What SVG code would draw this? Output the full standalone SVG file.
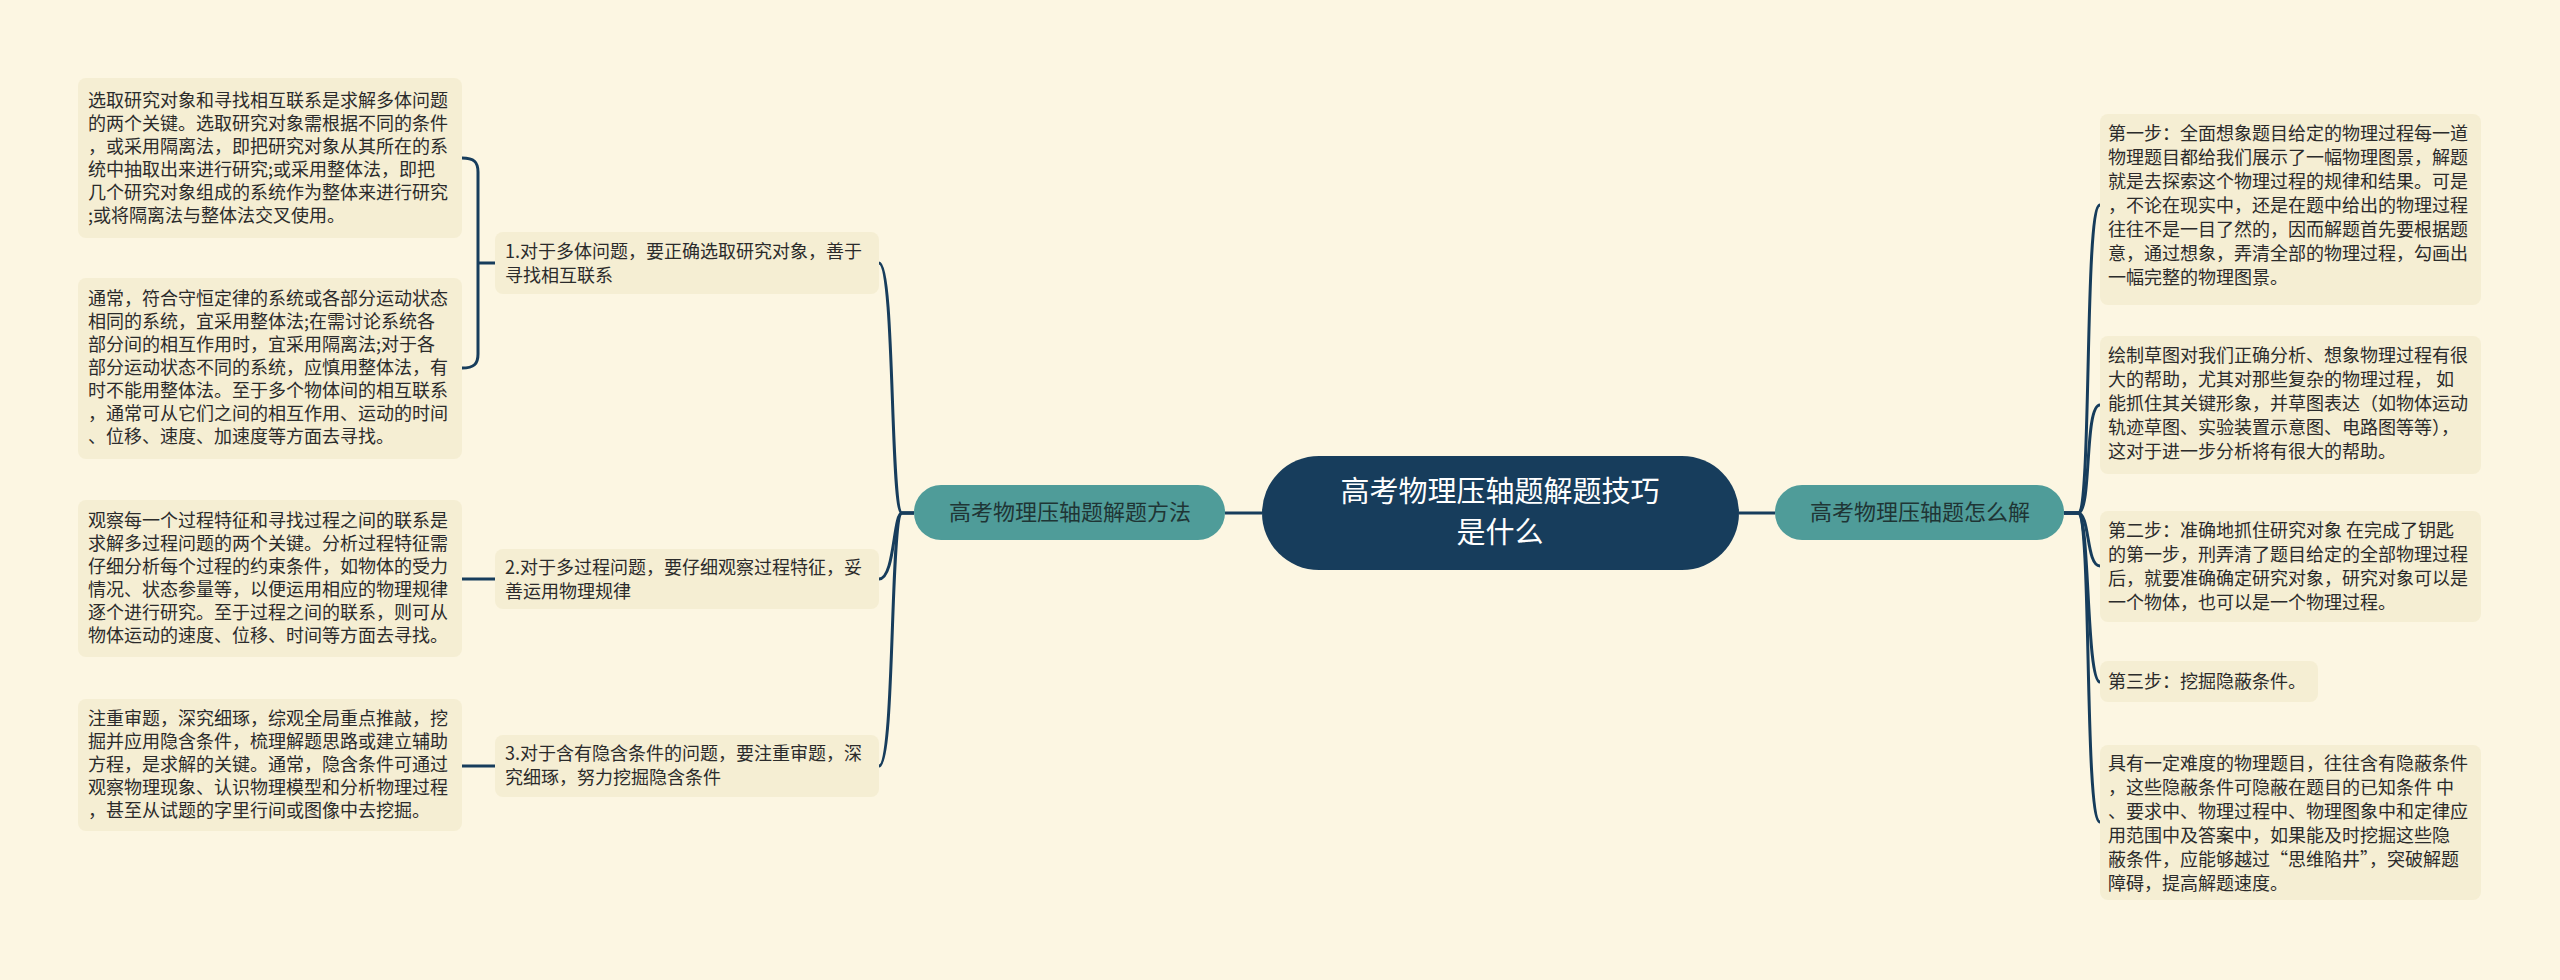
<svg xmlns="http://www.w3.org/2000/svg" width="2560" height="980" viewBox="0 0 2560 980">
<style>
.leaf{fill:#f5eed3}
.t{font-family:"Noto Sans CJK SC","Liberation Sans",sans-serif;font-size:18px;fill:#2b2b2b}
.m{fill:#4f9c99}
.mt{font-family:"Noto Sans CJK SC","Liberation Sans",sans-serif;font-size:22px;fill:#1f3535}
.c{fill:none;stroke:#173d5c;stroke-width:3}
</style>
<rect width="2560" height="980" fill="#fcf6e2"/>
<g id="connectors">
<path class="c" d="M1262,513 H1225"/>
<path class="c" d="M1739,513 H1775"/>
<path class="c" d="M914,513 H902 C890,513 895,263 879,263"/>
<path class="c" d="M914,513 H902 C893,513 895,579 879,579"/>
<path class="c" d="M914,513 H902 C890,513 895,766 879,766"/>
<path class="c" d="M495,263 H478"/>
<path class="c" d="M462,158 C474,158 478,162 478,172 V354 C478,364 474,368 462,368"/>
<path class="c" d="M495,579 H462"/>
<path class="c" d="M495,766 H462"/>
<path class="c" d="M2064,513 H2078 C2092,513 2084,205 2100,205"/>
<path class="c" d="M2064,513 H2078 C2092,513 2084,405 2100,405"/>
<path class="c" d="M2064,513 H2078 C2090,513 2086,566 2100,566"/>
<path class="c" d="M2064,513 H2078 C2090,513 2086,682 2100,682"/>
<path class="c" d="M2064,513 H2078 C2092,513 2084,822 2100,822"/>
</g>
<g id="center">
<rect x="1262" y="456" width="477" height="114" rx="57" fill="#173d5c"/>
<text x="1500" y="502" text-anchor="middle" font-family="Noto Sans CJK SC,Liberation Sans,sans-serif" font-size="29" fill="#fff">高考物理压轴题解题技巧</text>
<text x="1500" y="543" text-anchor="middle" font-family="Noto Sans CJK SC,Liberation Sans,sans-serif" font-size="29" fill="#fff">是什么</text>
</g>
<g id="main-left"><rect class="m" x="914" y="485" width="311" height="55" rx="27"/><text class="mt" x="1070" y="520" text-anchor="middle">高考物理压轴题解题方法</text></g>
<g id="main-right"><rect class="m" x="1775" y="485" width="289" height="55" rx="27"/><text class="mt" x="1920" y="520" text-anchor="middle">高考物理压轴题怎么解</text></g>
<g id="sub1"><rect class="leaf" x="495" y="232" width="384" height="62" rx="8"/><text class="t" x="505" y="258">1.对于多体问题，要正确选取研究对象，善于</text><text class="t" x="505" y="282">寻找相互联系</text></g>
<g id="sub2"><rect class="leaf" x="495" y="549" width="384" height="60" rx="8"/><text class="t" x="505" y="574">2.对于多过程问题，要仔细观察过程特征，妥</text><text class="t" x="505" y="598">善运用物理规律</text></g>
<g id="sub3"><rect class="leaf" x="495" y="735" width="384" height="62" rx="8"/><text class="t" x="505" y="760">3.对于含有隐含条件的问题，要注重审题，深</text><text class="t" x="505" y="784">究细琢，努力挖掘隐含条件</text></g>
<g id="leaf1a"><rect class="leaf" x="78" y="78" width="384" height="160" rx="8"/>
<text class="t" x="88" y="107">选取研究对象和寻找相互联系是求解多体问题</text>
<text class="t" x="88" y="130">的两个关键。选取研究对象需根据不同的条件</text>
<text class="t" x="88" y="153">，或采用隔离法，即把研究对象从其所在的系</text>
<text class="t" x="88" y="176">统中抽取出来进行研究;或采用整体法，即把</text>
<text class="t" x="88" y="199">几个研究对象组成的系统作为整体来进行研究</text>
<text class="t" x="88" y="222">;或将隔离法与整体法交叉使用。</text></g>
<g id="leaf1b"><rect class="leaf" x="78" y="278" width="384" height="181" rx="8"/>
<text class="t" x="88" y="305">通常，符合守恒定律的系统或各部分运动状态</text>
<text class="t" x="88" y="328">相同的系统，宜采用整体法;在需讨论系统各</text>
<text class="t" x="88" y="351">部分间的相互作用时，宜采用隔离法;对于各</text>
<text class="t" x="88" y="374">部分运动状态不同的系统，应慎用整体法，有</text>
<text class="t" x="88" y="397">时不能用整体法。至于多个物体间的相互联系</text>
<text class="t" x="88" y="420">，通常可从它们之间的相互作用、运动的时间</text>
<text class="t" x="88" y="443">、位移、速度、加速度等方面去寻找。</text></g>
<g id="leaf2"><rect class="leaf" x="78" y="500" width="384" height="157" rx="8"/>
<text class="t" x="88" y="527">观察每一个过程特征和寻找过程之间的联系是</text>
<text class="t" x="88" y="550">求解多过程问题的两个关键。分析过程特征需</text>
<text class="t" x="88" y="573">仔细分析每个过程的约束条件，如物体的受力</text>
<text class="t" x="88" y="596">情况、状态参量等，以便运用相应的物理规律</text>
<text class="t" x="88" y="619">逐个进行研究。至于过程之间的联系，则可从</text>
<text class="t" x="88" y="642">物体运动的速度、位移、时间等方面去寻找。</text></g>
<g id="leaf3"><rect class="leaf" x="78" y="699" width="384" height="132" rx="8"/>
<text class="t" x="88" y="725">注重审题，深究细琢，综观全局重点推敲，挖</text>
<text class="t" x="88" y="748">掘并应用隐含条件，梳理解题思路或建立辅助</text>
<text class="t" x="88" y="771">方程，是求解的关键。通常，隐含条件可通过</text>
<text class="t" x="88" y="794">观察物理现象、认识物理模型和分析物理过程</text>
<text class="t" x="88" y="817">，甚至从试题的字里行间或图像中去挖掘。</text></g>
<g id="r1"><rect class="leaf" x="2100" y="114" width="381" height="191" rx="8"/>
<text class="t" x="2108" y="140">第一步：全面想象题目给定的物理过程每一道</text>
<text class="t" x="2108" y="164">物理题目都给我们展示了一幅物理图景，解题</text>
<text class="t" x="2108" y="188">就是去探索这个物理过程的规律和结果。可是</text>
<text class="t" x="2108" y="212">，不论在现实中，还是在题中给出的物理过程</text>
<text class="t" x="2108" y="236">往往不是一目了然的，因而解题首先要根据题</text>
<text class="t" x="2108" y="260">意，通过想象，弄清全部的物理过程，勾画出</text>
<text class="t" x="2108" y="284">一幅完整的物理图景。</text></g>
<g id="r2"><rect class="leaf" x="2100" y="336" width="381" height="138" rx="8"/>
<text class="t" x="2108" y="362">绘制草图对我们正确分析、想象物理过程有很</text>
<text class="t" x="2108" y="386">大的帮助，尤其对那些复杂的物理过程， 如</text>
<text class="t" x="2108" y="410">能抓住其关键形象，并草图表达（如物体运动</text>
<text class="t" x="2108" y="434">轨迹草图、实验装置示意图、电路图等等），</text>
<text class="t" x="2108" y="458"> 这对于进一步分析将有很大的帮助。</text></g>
<g id="r3"><rect class="leaf" x="2100" y="511" width="381" height="111" rx="8"/>
<text class="t" x="2108" y="537">第二步：准确地抓住研究对象 在完成了钥匙</text>
<text class="t" x="2108" y="561">的第一步，刑弄清了题目给定的全部物理过程</text>
<text class="t" x="2108" y="585">后，就要准确确定研究对象，研究对象可以是</text>
<text class="t" x="2108" y="609">一个物体，也可以是一个物理过程。</text></g>
<g id="r4"><rect class="leaf" x="2100" y="661" width="218" height="41" rx="8"/>
<text class="t" x="2108" y="688">第三步：挖掘隐蔽条件。</text></g>
<g id="r5"><rect class="leaf" x="2100" y="745" width="381" height="155" rx="8"/>
<text class="t" x="2108" y="770">具有一定难度的物理题目，往往含有隐蔽条件</text>
<text class="t" x="2108" y="794">，这些隐蔽条件可隐蔽在题目的已知条件 中</text>
<text class="t" x="2108" y="818">、要求中、物理过程中、物理图象中和定律应</text>
<text class="t" x="2108" y="842">用范围中及答案中，如果能及时挖掘这些隐</text>
<text class="t" x="2108" y="866">蔽条件，应能够越过“思维陷井”，突破解题</text>
<text class="t" x="2108" y="890">障碍，提高解题速度。</text></g>
</svg>
